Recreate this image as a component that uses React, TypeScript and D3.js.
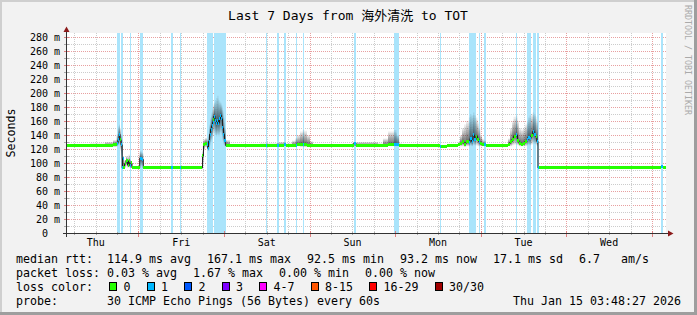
import React from 'react';
import * as d3 from 'd3';

// ---------- data ----------
const END_TIME = '2026-01-15T03:48:27Z';
const SPAN_HOURS = 168;

// hours since the start of the 7-day window
const sampleHours = [
  0, 6.59, 10.8, 13.04, 14.08, 14.44, 14.81, 15.01, 15.29, 15.62, 15.73, 15.85, 16.27, 16.69, 17.11, 17.39,
  17.73, 18.09, 18.37, 20.53, 21.04, 21.54, 29.22, 29.87, 31.83, 32.2, 38.14, 38.42, 38.84, 39.41, 39.63,
  39.83, 40.11, 40.39, 40.67, 40.95, 41.17, 41.28, 41.65, 41.99, 42.29, 42.63, 42.91, 43.19, 43.47, 43.75,
  44.03, 44.31, 44.65, 45.86, 54.27, 55.95, 56.32, 58.95, 59.68, 60.92, 61.56, 63.25, 64.23, 64.7, 65.49,
  66.25, 66.7, 67.45, 68.29, 69.14, 80.55, 81.2, 87.37, 88.77, 90.17, 91.77, 92.56, 92.7, 93.31, 94.1,
  104.62, 105.09, 106.72, 109.8, 110.36, 110.93, 111.49, 112.05, 112.83, 113.17, 113.59, 114.01, 114.43,
  114.85, 115.27, 115.61, 116.06, 116.54, 116.96, 117.6, 123.83, 124.39, 124.95, 125.37, 125.99, 126.49,
  126.91, 127.47, 128.03, 128.6, 129.1, 129.44, 129.86, 130.28, 130.75, 131.18, 131.6, 131.88, 132.24,
  132.52, 166.74, 167.3,
];
// median rtt (ms)
const medianMs = [
  125, 125, 125, 126, 128, 133, 141, 133, 126, 93, 106, 93, 99, 104, 97, 103,
  96, 100, 93, 107, 105, 93, 93, 93, 93, 93, 110, 127, 128, 126, 121,
  131, 141, 148, 153, 158, 162, 167, 160, 156, 161, 157, 163, 168, 163, 150,
  141, 132, 125, 125, 125, 125, 125, 125, 125, 126, 125, 125, 125, 126, 127,
  127, 126, 125, 125, 125, 128, 125, 125, 125, 126, 127, 126, 126, 125, 125,
  123.5, 123.5, 125, 126, 128, 130, 127, 130, 129, 135, 131, 140, 133,
  138, 134, 130, 128, 126, 126, 125, 127, 130, 134, 138, 140, 132,
  128, 127, 128, 131, 133, 137, 135, 139, 145, 141, 138, 131, 93,
  93, 95, 94,
];
// upper edge of the smoke (slowest pings, ms)
const smokeHighMs = [
  126, 128, 130, 133, 141, 152, 155, 150, 140, 100, 110, 97, 104, 110, 106, 112,
  105, 103, 94, 117, 115, 94, 94, 94, 94, 94, 118, 134, 136, 134, 131,
  140, 155, 165, 172, 178, 182, 186, 190, 193, 196, 190, 188, 186, 182, 175,
  165, 150, 133, 127, 128, 128, 128, 129, 130, 130, 128, 132, 136, 140, 145,
  147, 146, 140, 131, 126, 130, 130, 128, 135, 145, 147, 142, 140, 128, 126,
  125, 125, 126, 130, 140, 150, 155, 160, 165, 170, 168, 172, 168,
  165, 158, 150, 140, 135, 132, 127, 135, 150, 160, 166, 168, 160,
  150, 148, 150, 155, 160, 165, 168, 170, 172, 170, 166, 160, 94,
  94, 96, 95,
];
// lower edge of the smoke (fastest pings, ms)
const smokeLowMs = [
  124, 124, 124, 123, 124, 125, 128, 118, 105, 92, 94, 92, 93, 95, 93, 94,
  93, 93, 92, 95, 95, 92, 92, 92, 92, 92, 95, 118, 122, 120, 117,
  118, 125, 130, 134, 138, 140, 143, 140, 138, 141, 138, 142, 145, 140, 132,
  126, 124, 123, 124, 124, 124, 124, 124, 124, 124, 124, 124, 124, 124, 123,
  123, 123, 124, 124, 124, 124, 124, 124, 124, 124, 124, 124, 124, 124, 124,
  122, 122, 124, 124, 124, 124, 123, 124, 124, 125, 124, 126, 125,
  125, 124, 124, 124, 124, 124, 124, 124, 124, 125, 126, 126, 125,
  124, 124, 124, 124, 125, 126, 125, 126, 128, 127, 126, 124, 92,
  92, 93, 93,
];
// lost pings out of 30
const lossCount = [
  0, 0, 0, 0, 1, 1, 1, 0, 1, 1, 1, 0, 0, 0, 0, 0,
  1, 0, 0, 1, 1, 0, 1, 0, 1, 0, 0, 0, 0, 1, 1,
  1, 1, 1, 1, 1, 0, 1, 1, 1, 1, 1, 1, 1, 1, 1,
  1, 1, 0, 0, 0, 1, 0, 1, 0, 1, 0, 0, 1, 0, 0,
  1, 0, 0, 0, 0, 1, 0, 0, 0, 0, 1, 0, 1, 0, 0,
  1, 0, 0, 0, 0, 0, 0, 0, 1, 1, 1, 1, 1,
  0, 0, 1, 0, 0, 1, 0, 0, 0, 0, 0, 1, 0,
  0, 0, 0, 0, 1, 1, 1, 0, 1, 1, 0, 1, 1,
  0, 1, 0,
];

const yTickValues = [0, 20, 40, 60, 80, 100, 120, 140, 160, 180, 200, 220, 240, 260, 280];
const yTickUnit = 'm';
const dayLabels = ['Thu', 'Fri', 'Sat', 'Sun', 'Mon', 'Tue', 'Wed'];
const lossLegendLabels = ['0', '1', '2', '3', '4-7', '8-15', '16-29', '30/30'];
const lossLegendColors = ['#26ff00', '#00b8ff', '#0059ff', '#7e00ff', '#ff00ff', '#ff5500', '#ff0000', '#a10000'];
const medianStatNames = ['avg', 'max', 'min', 'now', 'sd'];
const medianStatValues = [114.9, 167.1, 92.5, 93.2, 17.1];
const amsValue = 6.7;
const lossStatNames = ['avg', 'max', 'min', 'now'];
const lossStatValues = [0.03, 1.67, 0.0, 0.0];
const titleText = 'Last 7 Days from 海外清洗 to TOT';
const probeText = '30 ICMP Echo Pings (56 Bytes) every 60s';
const stampText = 'Thu Jan 15 03:48:27 2026';
const yAxisTitle = 'Seconds';
const watermark = 'RRDTOOL / TOBI OETIKER';

// ---------- drawing ----------
const MONO = "'DejaVu Sans Mono', 'Noto Sans CJK SC', monospace";
const CW = 7.0; // legend char advance
const GAP = 16;

function lossIndex(n: number) {
  if (n <= 0) return 0;
  if (n <= 3) return n;
  if (n <= 7) return 4;
  if (n <= 15) return 5;
  if (n <= 29) return 6;
  return 7;
}

export default function App() {
  const W = 697, H = 315;
  const PL = 66.5, PR = 665.5, PT = 33, PB = 233;
  const endDate = new Date(END_TIME);
  const t0 = new Date(endDate.getTime() - SPAN_HOURS * 3600e3);
  const toDate = (h: number) => new Date(t0.getTime() + h * 3600e3);
  const x = d3.scaleUtc().domain([t0, endDate]).range([PL, PR]);
  const y = d3.scaleLinear().domain([0, 285.714]).range([PB, PT]);

  const n = sampleHours.length;
  const tExt = [...sampleHours, SPAN_HOURS];
  const idx = d3.range(n + 1);
  const at = (arr: number[], i: number) => arr[Math.min(i, n - 1)];

  // grid
  const hGrid = d3.range(10, 281, 10);
  const vGrid = d3.utcHour.every(6)!.range(t0, endDate);
  const days = d3.utcDay.range(d3.utcDay.floor(t0), endDate);

  // smoke layers (outer = light, inner = dark)
  const L = 12;
  const smoke = d3.range(L).map((k) => {
    const f = Math.pow((L - k) / L, 1.4);
    return d3
      .area<number>()
      .x((i) => x(toDate(tExt[i])))
      .y0((i) => y(at(medianMs, i) - (at(medianMs, i) - at(smokeLowMs, i)) * f))
      .y1((i) => y(at(medianMs, i) + (at(smokeHighMs, i) - at(medianMs, i)) * f))
      .curve(d3.curveStepAfter)(idx);
  });
  const medLine = d3
    .line<number>()
    .x((i) => x(toDate(tExt[i])))
    .y((i) => y(at(medianMs, i)))
    .curve(d3.curveStepAfter)(idx);

  // legend pieces
  const line1: string[] = medianStatValues.map((v, i) =>
    i === 0 ? `median rtt:  ${v.toFixed(1)} ms ${medianStatNames[i]}` : `${v.toFixed(1)} ms ${medianStatNames[i]}`
  );
  line1.push(`${amsValue.toFixed(1)}   am/s`);
  const line2: string[] = lossStatValues.map((v, i) =>
    i === 0 ? `packet loss: ${v.toFixed(2)} % ${lossStatNames[i]}` : `${v.toFixed(2)} % ${lossStatNames[i]}`
  );
  const place = (pieces: string[]) => {
    let cx = 16;
    return pieces.map((p) => {
      const px = cx;
      cx += p.length * CW + GAP;
      return { p, px };
    });
  };
  const l1 = place(line1);
  const l2 = place(line2);
  let cur = 16 + 'loss color:'.length * CW + GAP;
  const swatches = lossLegendLabels.map((lab, i) => {
    const bx = cur;
    const tx = bx + 14.5;
    cur = tx + lab.length * CW + GAP;
    return { lab, bx, tx, color: lossLegendColors[i] };
  });

  return (
    <svg width={W} height={H} style={{ position: 'absolute', left: 0, top: 0 }} fontFamily={MONO}>
      <rect x={0} y={0} width={W} height={H} fill="#f2f2f2" />
      <rect x={0} y={0} width={W} height={2} fill="#cfcfcf" />
      <rect x={0} y={0} width={2} height={H} fill="#cfcfcf" />
      <rect x={W - 3} y={0} width={3} height={H} fill="#9e9e9e" />
      <rect x={0} y={H - 3} width={W} height={3} fill="#9e9e9e" />

      <text x={348} y={19.5} fontSize={13} textAnchor="middle" fill="#000">{titleText}</text>
      <text transform="translate(685,5) rotate(90)" fontSize={8.3} fill="#aaaaaa">{watermark}</text>

      {/* canvas */}
      <rect x={67} y={PT} width={599} height={PB - PT} fill="#ffffff" />

      {/* grid */}
      <g shapeRendering="crispEdges">
        {hGrid.map((v) => (
          <line key={'h' + v} x1={67} x2={666} y1={Math.round(y(v)) + 0.5} y2={Math.round(y(v)) + 0.5}
            stroke={v % 20 === 0 ? '#e8a0a0' : '#cccccc'} strokeDasharray="1,1" />
        ))}
        {vGrid.map((d) => {
          const xx = Math.round(x(d)) + 0.5;
          const major = d.getUTCHours() === 0;
          return <line key={'v' + d.getTime()} x1={xx} x2={xx} y1={PT} y2={PB}
            stroke={major ? '#e8a0a0' : '#cccccc'} strokeDasharray="1,1" />;
        })}
      </g>

      {/* loss background */}
      <g shapeRendering="crispEdges">
        {sampleHours.map((h, i) =>
          lossCount[i] > 0 ? (
            <rect key={'lb' + i} x={x(toDate(h))} y={PT} width={x(toDate(tExt[i + 1])) - x(toDate(h))}
              height={PB - PT} fill="#aae4fb" />
          ) : null
        )}
      </g>

      {/* smoke */}
      {smoke.map((d, k) => (
        <path key={'s' + k} d={d || ''} fill="#000" fillOpacity={0.075} />
      ))}

      {/* median */}
      <path d={medLine || ''} fill="none" stroke="#202020" strokeWidth={1} />
      <g shapeRendering="crispEdges">
        {sampleHours.map((h, i) => (
          <rect key={'m' + i} x={x(toDate(h))} width={Math.max(1, x(toDate(tExt[i + 1])) - x(toDate(h)))}
            y={y(medianMs[i]) - 1.5} height={3} fill={lossLegendColors[lossIndex(lossCount[i])]} />
        ))}
      </g>

      {/* axes */}
      <g shapeRendering="crispEdges">
        {vGrid.map((d) => {
          const xx = Math.round(x(d)) + 0.5;
          const major = d.getUTCHours() === 0;
          return <line key={'vt' + d.getTime()} x1={xx} x2={xx} y1={major ? 231 : 232} y2={major ? 237 : 235}
            stroke={major ? '#e08080' : '#aaaaaa'} />;
        })}
        {hGrid.map((v) => (
          <line key={'ht' + v} x1={64} x2={69} y1={Math.round(y(v)) + 0.5} y2={Math.round(y(v)) + 0.5}
            stroke={v % 20 === 0 ? '#e08080' : '#aaaaaa'} />
        ))}
        <line x1={66.5} x2={66.5} y1={237} y2={31} stroke="#333" />
        <line x1={63} x2={669} y1={233.5} y2={233.5} stroke="#333" />
      </g>
      <path d="M63.5,32 L69.5,32 L66.5,26.5 Z" fill="#8b1a1a" />
      <path d="M668,230.5 L668,236.5 L673.5,233.5 Z" fill="#8b1a1a" />

      {/* y ticks */}
      {yTickValues.map((v) => (
        <text key={'yl' + v} x={v === 0 ? 60 - 2 * 6.02 : 60} y={Math.round(y(v)) + 4} fontSize={10}
          textAnchor="end" fill="#000">{v === 0 ? '0' : `${v} ${yTickUnit}`}</text>
      ))}
      <text transform={`translate(15,${(PT + PB) / 2}) rotate(-90)`} fontSize={11.63} textAnchor="middle" fill="#000">
        {yAxisTitle}
      </text>

      {/* x labels */}
      {days.map((d, i) => (
        <text key={'xl' + i} x={x(d3.utcHour.offset(d, 12))} y={245.7} fontSize={10} textAnchor="middle" fill="#000">
          {dayLabels[i]}
        </text>
      ))}

      {/* legend */}
      <g fontSize={11.63} fill="#000">
        {l1.map(({ p, px }, i) => (
          <text key={'a' + i} x={px} y={263} style={{ whiteSpace: 'pre' }}>{p}</text>
        ))}
        {l2.map(({ p, px }, i) => (
          <text key={'b' + i} x={px} y={277} style={{ whiteSpace: 'pre' }}>{p}</text>
        ))}
        <text x={16} y={291}>loss color:</text>
        {swatches.map((s, i) => (
          <g key={'sw' + i}>
            <rect x={s.bx + 0.5} y={282.5} width={7} height={8} fill={s.color} stroke="#000" strokeWidth={1}
              shapeRendering="crispEdges" />
            <text x={s.tx} y={291}>{s.lab}</text>
          </g>
        ))}
        <text x={16} y={305} style={{ whiteSpace: 'pre' }}>{'probe:       ' + probeText}</text>
        <text x={681} y={305} textAnchor="end">{stampText}</text>
      </g>
    </svg>
  );
}
